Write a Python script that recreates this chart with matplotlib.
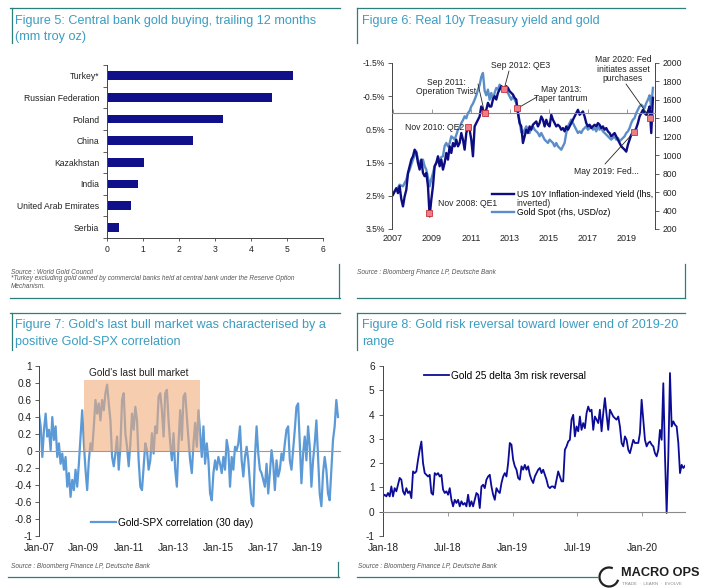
import numpy as np
import matplotlib
matplotlib.use("Agg")
import matplotlib.pyplot as plt
from matplotlib.lines import Line2D
from matplotlib.patches import Rectangle, Arc

plt.rcParams['font.family'] = ['Liberation Sans', 'DejaVu Sans']
plt.rcParams['axes.unicode_minus'] = False

# ---------------- data ----------------
countries = ['Turkey*', 'Russian Federation', 'Poland', 'China', 'Kazakhstan',
             'India', 'United Arab Emirates', 'Serbia']
cb_buying = [5.18, 4.57, 3.23, 2.38, 1.03, 0.85, 0.66, 0.32]

real_yield = [2.47, 2.37, 2.27, 2.42, 2.21, 2.60, 2.82, 2.52, 2.32, 1.81,
              1.61, 1.41, 1.31, 1.11, 1.21, 1.51, 1.71, 1.41, 1.81, 1.91,
              1.81, 2.21, 3.12, 2.62, 2.21, 1.61, 1.51, 1.31, 1.61, 1.41,
              1.71, 1.51, 1.21, 1.41, 1.01, 1.21, 0.91, 1.01, 0.81, 1.01,
              0.91, 0.61, 0.81, 1.11, 0.61, 0.41, 0.51, 0.81, 1.31, 0.41,
              0.31, 0.21, 0.11, -0.19, -0.09, 0.01, -0.09, -0.30, -0.19, -0.19,
              -0.40, -0.50, -0.40, -0.60, -0.70, -0.80, -0.75, -0.70, -0.80, -0.75,
              -0.65, -0.60, -0.55, -0.45, -0.40, 0.01, 0.31, 0.41, 0.91, 0.71,
              0.51, 0.61, 0.41, 0.51, 0.36, 0.31, 0.26, 0.41, 0.31, 0.11,
              0.21, 0.41, 0.21, 0.36, 0.41, 0.06, 0.21, 0.31, 0.41, 0.36,
              0.41, 0.51, 0.46, 0.56, 0.41, 0.51, 0.41, 0.31, 0.21, 0.11,
              0.01, -0.09, 0.06, 0.01, -0.04, 0.11, 0.31, 0.41, 0.36, 0.46,
              0.41, 0.36, 0.41, 0.31, 0.36, 0.46, 0.41, 0.51, 0.46, 0.56,
              0.61, 0.71, 0.66, 0.61, 0.71, 0.81, 0.91, 1.01, 1.06, 1.11,
              1.17, 0.96, 0.81, 0.66, 0.61, 0.56, 0.46, 0.31, 0.11, 0.01,
              -0.09, 0.01, 0.06, -0.04, -0.19, 0.61, -0.45]
gold_spot = [590, 610, 627, 650, 681, 670, 663, 700, 735, 800,
             843, 900, 952, 1000, 1042, 950, 916, 940, 952, 880,
             843, 760, 663, 740, 807, 880, 916, 940, 952, 980,
             988, 1100, 1133, 1096, 1130, 1205, 1190, 1169, 1220, 1277,
             1300, 1349, 1380, 1422, 1400, 1458, 1480, 1530, 1560, 1602,
             1650, 1711, 1760, 1850, 1892, 1700, 1650, 1711, 1602, 1675,
             1602, 1675, 1729, 1711, 1765, 1747, 1729, 1711, 1729, 1675,
             1639, 1602, 1639, 1602, 1566, 1480, 1360, 1250, 1241, 1277,
             1313, 1277, 1241, 1295, 1313, 1277, 1259, 1241, 1205, 1241,
             1205, 1169, 1151, 1133, 1169, 1151, 1133, 1096, 1133, 1096,
             1078, 1060, 1096, 1133, 1241, 1313, 1349, 1386, 1349, 1313,
             1277, 1241, 1259, 1241, 1277, 1295, 1313, 1277, 1295, 1313,
             1277, 1295, 1259, 1313, 1277, 1295, 1259, 1241, 1223, 1205,
             1187, 1169, 1187, 1205, 1169, 1187, 1151, 1169, 1187, 1205,
             1241, 1259, 1295, 1349, 1386, 1404, 1458, 1494, 1530, 1548,
             1530, 1512, 1566, 1602, 1650, 1520, 1730]
fig6_start, fig6_end = 2007.0, 2020.333
event_labels = ['Nov 2008: QE1', 'Nov 2010: QE2', 'Sep 2011:\nOperation Twist',
                'Sep 2012: QE3', 'May 2013:\nTaper tantrum', 'May 2019: Fed...',
                'Mar 2020: Fed\ninitiates asset\npurchases']
event_dates = [2008.87, 2010.87, 2011.70, 2012.70, 2013.38, 2019.38, 2020.20]

gold_spx_corr = [0.44, 0.29, -0.07, 0.25, 0.44, 0.17, 0.25, 0.01, 0.40, 0.13, 0.29, -0.07,
                 0.09, -0.15, -0.03, -0.22, -0.07, -0.42, -0.26, -0.54, -0.34, -0.46, -0.22, -0.42, -0.15, 0.17, 0.48, 0.09, -0.22, -0.46,
                 -0.11, 0.09, 0.01, 0.29, 0.60, 0.44, 0.56, 0.36, 0.60, 0.48, 0.68, 0.78, 0.56, 0.36, -0.07, -0.18, -0.03, 0.17, -0.22, 0.05,
                 0.60, 0.68, 0.21, 0.05, -0.18, 0.09, 0.44, 0.25, 0.52, 0.36, -0.11, -0.42, -0.46, -0.18, 0.09, 0.01, -0.22, -0.11, 0.21, -0.03,
                 0.29, 0.21, 0.64, 0.68, 0.48, 0.17, 0.68, 0.72, 0.36, 0.09, -0.11, 0.21, -0.22, -0.42, 0.09, 0.48, 0.13, 0.64, 0.68, 0.40,
                 0.13, -0.11, -0.26, 0.09, 0.33, 0.05, 0.48, 0.21, -0.07, 0.29, -0.15, 0.09, -0.11, -0.50, -0.58, -0.26, -0.11, -0.22, -0.07, -0.15,
                 -0.26, -0.07, -0.22, 0.13, 0.01, -0.42, -0.07, -0.22, 0.05, 0.01, 0.09, 0.29, -0.11, -0.30, -0.07, 0.05, -0.11, -0.38, -0.62, -0.65,
                 -0.07, 0.29, -0.03, -0.22, -0.26, -0.34, -0.42, -0.15, -0.50, -0.26, 0.01, -0.15, -0.46, -0.11, -0.30, -0.22, -0.03, -0.11, 0.09, 0.25,
                 0.29, -0.11, -0.22, 0.01, 0.25, 0.52, 0.56, 0.09, -0.38, -0.03, 0.17, -0.11, 0.29, 0.05, -0.42, -0.11, 0.09, 0.36, -0.07, -0.50,
                 -0.65, -0.26, -0.07, -0.22, -0.50, -0.58, -0.22, 0.13, 0.29, 0.60, 0.40]
fig7_start, fig7_end = 2007.0, 2020.35
bull_start, bull_end, bull_top = 2009.0, 2014.19, 0.84
fig7_ticks = [2007, 2009, 2011, 2013, 2015, 2017, 2019]
fig7_ticklabels = ['Jan-07', 'Jan-09', 'Jan-11', 'Jan-13', 'Jan-15', 'Jan-17', 'Jan-19']

risk_reversal = [0.63, 0.70, 0.63, 0.77, 0.63, 1.04, 0.63, 0.97, 0.84, 1.11, 1.39, 1.32, 0.84, 0.70, 0.97, 0.77, 0.84, 0.56, 1.66, 1.59,
                 1.66, 2.14, 2.55, 2.89, 2.00, 1.59, 1.52, 1.45, 1.52, 0.77, 0.70, 1.59, 1.52, 1.59, 1.45, 1.52, 0.91, 0.77, 0.84, 0.70,
                 0.97, 0.49, 0.22, 0.49, 0.36, 0.49, 0.22, 0.43, 0.29, 0.36, 0.22, 0.70, 0.22, 0.43, 0.22, 0.49, 0.77, 0.70, 0.15, 1.04,
                 1.11, 0.97, 1.32, 1.45, 1.52, 1.04, 0.70, 0.49, 0.97, 0.84, 0.77, 1.18, 1.45, 1.59, 1.45, 2.00, 2.83, 2.76, 2.14, 1.87,
                 1.73, 1.39, 1.32, 1.87, 1.73, 1.93, 1.73, 1.87, 1.52, 1.32, 1.18, 1.45, 1.59, 1.73, 1.80, 1.59, 1.73, 1.52, 1.32, 1.04,
                 0.97, 1.04, 1.04, 0.97, 1.32, 1.66, 1.45, 1.25, 1.25, 2.55, 2.69, 2.89, 2.96, 3.79, 3.99, 3.10, 3.51, 3.31, 3.92, 3.37,
                 3.65, 3.44, 4.06, 4.33, 4.13, 4.20, 3.37, 3.92, 3.79, 3.65, 4.20, 3.31, 4.06, 4.68, 3.99, 3.37, 4.20, 4.06, 3.92, 3.85,
                 3.79, 3.92, 3.51, 2.83, 2.69, 3.10, 2.96, 2.55, 2.41, 2.69, 2.96, 2.83, 2.83, 2.83, 3.24, 4.61, 3.79, 2.96, 2.69, 2.83,
                 2.89, 2.76, 2.69, 2.41, 2.28, 2.55, 3.37, 2.96, 5.29, 2.30, -0.05, 2.30, 5.71, 3.51, 3.72, 3.58, 3.51, 2.83, 1.59, 1.93,
                 1.80, 1.89]
fig8_start, fig8_end = 2018.0, 2020.332
fig8_ticks = [2018.0, 2018.5, 2019.0, 2019.5, 2020.0]
fig8_ticklabels = ['Jan-18', 'Jul-18', 'Jan-19', 'Jul-19', 'Jan-20']

# ---------------- layout helpers ----------------
W, H = 702, 588
fig = plt.figure(figsize=(W / 100, H / 100), dpi=100)


def fx(x):
    return x / W


def fy(y):
    return 1 - y / H


def box(l, t, r, b):
    return [fx(l), fy(b), (r - l) / W, (b - t) / H]


TEAL = '#2e7e7c'
TITLE = '#3c9dc0'
SRC = '#555555'
TXT = '#222222'
AXC = '#444444'
FT = 6.2   # text size in the top panels
FB = 7.3   # text size in the bottom panels


def hline(x0, x1, y):
    fig.add_artist(Line2D([fx(x0), fx(x1)], [fy(y), fy(y)], transform=fig.transFigure,
                          color=TEAL, lw=0.9))


def vline(x, y0, y1):
    fig.add_artist(Line2D([fx(x), fx(x)], [fy(y0), fy(y1)], transform=fig.transFigure,
                          color=TEAL, lw=0.9))


def title(x, y, s):
    fig.text(fx(x), fy(y), s, ha='left', va='center', fontsize=9.05, color=TITLE)


def source(x, y, s):
    fig.text(fx(x), fy(y), s, ha='left', va='center', fontsize=4.7, color=SRC, style='italic')


# frames
hline(10, 340, 8); vline(12, 8, 43); hline(10, 340, 298); vline(339, 264, 298)
hline(357, 685, 8); vline(357, 8, 43); hline(357, 685, 298); vline(685, 264, 298)
hline(10, 340, 313); vline(12, 313, 350); hline(8, 339, 577); vline(338, 562, 577)
hline(357, 685, 313); vline(357, 313, 350); hline(357, 597, 577)

title(15, 21, 'Figure 5: Central bank gold buying, trailing 12 months')
title(15, 37, '(mm troy oz)')
title(362, 21, 'Figure 6: Real 10y Treasury yield and gold')
title(15, 325, "Figure 7: Gold's last bull market was characterised by a")
title(15, 342, 'positive Gold-SPX correlation')
title(362, 325, 'Figure 8: Gold risk reversal toward lower end of 2019-20')
title(362, 342, 'range')

source(11, 272, 'Source : World Gold Council')
source(11, 279, '*Turkey excluding gold owned by commercial banks held at central bank under the Reserve Option')
source(11, 287, 'Mechanism.')
source(357, 272, 'Source : Bloomberg Finance LP, Deutsche Bank')
source(11, 566, 'Source : Bloomberg Finance LP, Deutsche Bank')
source(358, 566, 'Source : Bloomberg Finance LP, Deutsche Bank')

# ---------------- Figure 5 ----------------
ax5 = fig.add_axes(box(107, 65, 323, 238))
ypos = np.arange(len(countries))
ax5.barh(ypos, cb_buying, height=0.4, color='#10108a')
ax5.set_ylim(len(countries) - 0.5, -0.5)
ax5.set_xlim(0, 6)
ax5.set_yticks(ypos)
ax5.set_yticklabels(countries)
ax5.set_yticks(np.arange(-0.5, len(countries), 1.0), minor=True)
ax5.tick_params(axis='y', which='major', length=0, pad=5.5, labelsize=FT, labelcolor=TXT)
ax5.tick_params(axis='y', which='minor', length=3, width=0.6, color=AXC)
ax5.set_xticks(range(7))
ax5.tick_params(axis='x', length=2.5, width=0.6, color=AXC, labelsize=FT, labelcolor=TXT, pad=2.5)
for s in ['top', 'right']:
    ax5.spines[s].set_visible(False)
for s in ['left', 'bottom']:
    ax5.spines[s].set_color(AXC)
    ax5.spines[s].set_linewidth(0.7)

# ---------------- Figure 6 ----------------
years6 = np.linspace(fig6_start, fig6_end, len(real_yield))
ax6 = fig.add_axes(box(392, 63, 655, 229))
ax6g = ax6.twinx()
ax6.set_zorder(ax6g.get_zorder() + 1)
ax6.patch.set_visible(False)
l_gold, = ax6g.plot(years6, gold_spot, color='#5b8ec8', lw=1.7)
l_yld, = ax6.plot(years6, real_yield, color='#0d0d82', lw=1.7)
ev_vals = np.interp(event_dates, years6, real_yield)
ax6.plot(event_dates, ev_vals, 's', ms=4.2, mfc='#ec7f86', mec='#c8323c', mew=0.6, ls='none', zorder=5)

ax6.set_xlim(2006.95, 2020.44)
ax6.set_ylim(3.5, -1.5)
yt6 = [-1.5, -0.5, 0.5, 1.5, 2.5, 3.5]
ax6.set_yticks(yt6)
ax6.set_yticklabels([f'{v:.1f}%' for v in yt6])
ax6.tick_params(axis='y', length=3, width=0.6, color=AXC, labelsize=FT, labelcolor=TXT, pad=2)
ax6g.set_ylim(200, 2000)
ax6g.set_yticks(range(200, 2001, 200))
ax6g.tick_params(axis='y', length=3, width=0.6, color=AXC, labelsize=FT, labelcolor=TXT, pad=2.5)
ax6.spines['top'].set_visible(False)
ax6.spines['right'].set_visible(False)
ax6.spines['left'].set_color(AXC)
ax6.spines['left'].set_linewidth(0.7)
ax6.spines['bottom'].set_position(('data', 0))
ax6.spines['bottom'].set_color('#8a8a8a')
ax6.spines['bottom'].set_linewidth(0.8)
for s in ['top', 'bottom', 'left']:
    ax6g.spines[s].set_visible(False)
ax6g.spines['right'].set_color(AXC)
ax6g.spines['right'].set_linewidth(0.7)
yr6 = list(range(2007, 2020, 2))
ax6.set_xticks(yr6)
ax6.tick_params(axis='x', direction='in', length=3, width=0.6, color='#8a8a8a', labelbottom=False)
sec6 = ax6.secondary_xaxis('bottom')
sec6.set_xticks(yr6)
sec6.set_xticklabels([str(y) for y in yr6])
sec6.tick_params(length=0, labelsize=FT + 0.3, labelcolor=TXT, pad=3.5)
sec6.spines['bottom'].set_visible(False)

# annotations
ann_text_pos = [(438, 203, 'left'), (464, 127, 'right'), (446, 87, 'center'),
                (521, 66, 'center'), (561, 94, 'center'), (606, 172, 'center'),
                (623, 69, 'center')]
ann_line_start = [None, None, (478, 84), (509, 71), (537, 97), (605, 164), (626, 84)]
for lab, (tx, ty, ha), ls, d, v in zip(event_labels, ann_text_pos, ann_line_start, event_dates, ev_vals):
    fig.text(fx(tx), fy(ty), lab, ha=ha, va='center', fontsize=FT, color=TXT,
             multialignment='center', linespacing=1.1)
    if ls is not None:
        ax6.annotate('', xy=(d, v), xytext=(fx(ls[0]), fy(ls[1])), textcoords='figure fraction',
                     arrowprops=dict(arrowstyle='-', color='#222222', lw=0.6, shrinkA=0, shrinkB=2))

ax6.legend([l_yld, l_gold], ['US 10Y Inflation-indexed Yield (lhs,', 'Gold Spot (rhs, USD/oz)'],
           loc='upper left', bbox_to_anchor=(fx(492), fy(190)), bbox_transform=fig.transFigure,
           frameon=False, fontsize=FT, handlelength=2.6, handletextpad=0.25,
           borderpad=0, borderaxespad=0, labelspacing=1.05)
fig.text(fx(516), fy(204), 'inverted)', ha='left', va='center', fontsize=FT, color=TXT)

# ---------------- Figure 7 ----------------
years7 = np.linspace(fig7_start, fig7_end, len(gold_spx_corr))
ax7 = fig.add_axes(box(39, 366, 340, 536))
l7, = ax7.plot(years7, gold_spx_corr, color='#5b9ad6', lw=1.6, zorder=2)
ax7.add_patch(Rectangle((bull_start, 0), bull_end - bull_start, bull_top,
                        facecolor='#f0ac7b', alpha=0.6, edgecolor='none', zorder=3))
ax7.text((bull_start + bull_end) / 2 - 0.15, 0.92, "Gold's last bull market", ha='center', va='center',
         fontsize=FB, color=TXT)
ax7.set_xlim(2007.0, 2020.44)
ax7.set_ylim(-1, 1)
yt7 = np.round(np.arange(-1, 1.01, 0.2), 1)
ax7.set_yticks(yt7)
ax7.set_yticklabels(['0' if v == 0 else f'{v:g}' for v in yt7])
ax7.tick_params(axis='y', length=3, width=0.6, color=AXC, labelsize=FB, labelcolor=TXT, pad=2)
ax7.spines['top'].set_visible(False)
ax7.spines['right'].set_visible(False)
ax7.spines['left'].set_color(AXC)
ax7.spines['left'].set_linewidth(0.7)
ax7.spines['bottom'].set_position(('data', 0))
ax7.spines['bottom'].set_color('#9a9a9a')
ax7.spines['bottom'].set_linewidth(0.8)
ax7.set_xticks(fig7_ticks)
ax7.tick_params(axis='x', length=0, labelbottom=False)
sec7 = ax7.secondary_xaxis('bottom')
sec7.set_xticks(fig7_ticks)
sec7.set_xticklabels(fig7_ticklabels)
sec7.tick_params(length=0, labelsize=FB, labelcolor=TXT, pad=5)
sec7.spines['bottom'].set_visible(False)
ax7.legend([l7], ['Gold-SPX correlation (30 day)'], loc='center left',
           bbox_to_anchor=(fx(91), fy(523)), bbox_transform=fig.transFigure,
           frameon=False, fontsize=FB, handlelength=2.5, handletextpad=0.2,
           borderpad=0, borderaxespad=0)

# ---------------- Figure 8 ----------------
years8 = np.linspace(fig8_start, fig8_end, len(risk_reversal))
ax8 = fig.add_axes(box(383, 366, 685, 536))
l8, = ax8.plot(years8, risk_reversal, color='#0b0b98', lw=1.3)
ax8.set_xlim(2018.0, 2020.332)
ax8.set_ylim(-1, 6)
ax8.set_yticks(range(-1, 7))
ax8.tick_params(axis='y', length=3, width=0.6, color=AXC, labelsize=FB, labelcolor=TXT, pad=3)
ax8.spines['top'].set_visible(False)
ax8.spines['right'].set_visible(False)
ax8.spines['left'].set_color(AXC)
ax8.spines['left'].set_linewidth(0.7)
ax8.spines['bottom'].set_position(('data', 0))
ax8.spines['bottom'].set_color('#8a8a8a')
ax8.spines['bottom'].set_linewidth(0.8)
ax8.set_xticks(fig8_ticks)
ax8.tick_params(axis='x', direction='out', length=3, width=0.6, color='#8a8a8a', labelbottom=False)
sec8 = ax8.secondary_xaxis('bottom')
sec8.set_xticks(fig8_ticks)
sec8.set_xticklabels(fig8_ticklabels)
sec8.tick_params(length=0, labelsize=FB, labelcolor=TXT, pad=5)
sec8.spines['bottom'].set_visible(False)
ax8.legend([l8], ['Gold 25 delta 3m risk reversal'], loc='center left',
           bbox_to_anchor=(fx(424), fy(376)), bbox_transform=fig.transFigure,
           frameon=False, fontsize=FB, handlelength=2.5, handletextpad=0.2,
           borderpad=0, borderaxespad=0)

# ---------------- logo ----------------
fig.add_artist(Arc((fx(609), fy(577)), 19 / W, 19 / H, theta1=70, theta2=340,
                   transform=fig.transFigure, color='#222222', lw=1.6))
fig.text(fx(621), fy(573), 'MACRO OPS', ha='left', va='center', fontsize=9.2,
         fontweight='bold', color='#1e1e1e')
fig.text(fx(622), fy(584), 'TRADE  \u00b7  LEARN  \u00b7  EVOLVE', ha='left', va='center',
         fontsize=3.2, color='#8a8a8a')

fig.savefig('out.png', dpi=100)
